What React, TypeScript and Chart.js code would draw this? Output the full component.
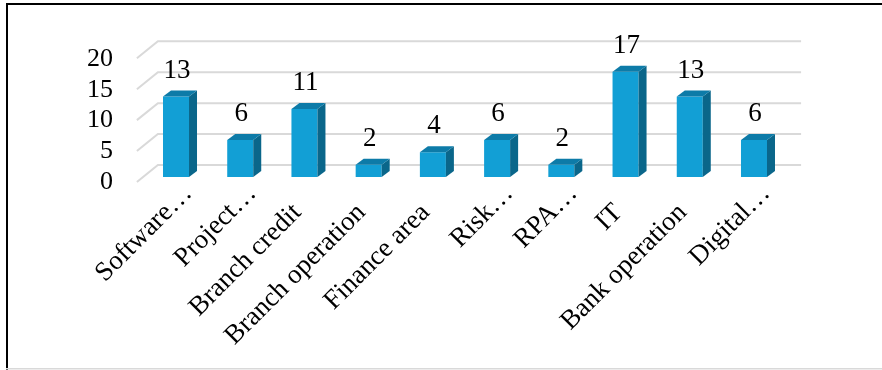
import React, { useEffect, useRef } from 'react';
import { Chart, registerables } from 'chart.js';

Chart.register(...registerables);

const categories = [
  'Software…',
  'Project…',
  'Branch credit',
  'Branch operation',
  'Finance area',
  'Risk…',
  'RPA…',
  'IT',
  'Bank operation',
  'Digital…',
];
const values = [13, 6, 11, 2, 4, 6, 2, 17, 13, 6];
const yTicks = [0, 5, 10, 15, 20];

const FONT = '"Liberation Serif", "Times New Roman", serif';
const FRONT = '#129fd5';
const TOP = '#0d7ba8';
const SIDE = '#0a668a';
const GRID = '#d9d9d9';

const framePlugin = {
  id: 'frame',
  beforeDraw(chart: any) {
    const ctx = chart.ctx;
    ctx.save();
    ctx.fillStyle = '#ffffff';
    ctx.fillRect(0, 0, chart.width, chart.height);
    ctx.fillStyle = '#000000';
    ctx.fillRect(6, 3, chart.width - 6, 2);
    ctx.fillRect(6, 3, 2, chart.height - 3);
    ctx.fillStyle = GRID;
    ctx.fillRect(6, 368, chart.width - 6, 1.5);
    ctx.restore();
  },
};

const wallPlugin = {
  id: 'wall',
  beforeDatasetsDraw(chart: any) {
    const { ctx, chartArea } = chart;
    const y = chart.scales.y;
    ctx.save();
    ctx.strokeStyle = GRID;
    ctx.lineWidth = 2;
    for (const v of yTicks) {
      const py = y.getPixelForValue(v) - 12;
      ctx.beginPath();
      ctx.moveTo(chartArea.left - 7, py + 17);
      ctx.lineTo(chartArea.left + 14, py);
      ctx.lineTo(chartArea.right + 15, py);
      ctx.stroke();
    }
    ctx.restore();
  },
};

const bars3dPlugin = {
  id: 'bars3d',
  afterDatasetsDraw(chart: any) {
    const ctx = chart.ctx;
    const meta = chart.getDatasetMeta(0);
    const dx = 8;
    const dy = 6;
    ctx.save();
    meta.data.forEach((bar: any, i: number) => {
      const { x, y, base, width } = bar.getProps(['x', 'y', 'base', 'width'], true);
      const l = x - width / 2;
      const r = x + width / 2;
      ctx.fillStyle = SIDE;
      ctx.beginPath();
      ctx.moveTo(r, y);
      ctx.lineTo(r + dx, y - dy);
      ctx.lineTo(r + dx, base - dy);
      ctx.lineTo(r, base);
      ctx.closePath();
      ctx.fill();
      ctx.fillStyle = TOP;
      ctx.beginPath();
      ctx.moveTo(l, y);
      ctx.lineTo(l + dx, y - dy);
      ctx.lineTo(r + dx, y - dy);
      ctx.lineTo(r, y);
      ctx.closePath();
      ctx.fill();
      ctx.fillStyle = '#000000';
      ctx.font = `27px ${FONT}`;
      ctx.textAlign = 'center';
      ctx.textBaseline = 'alphabetic';
      ctx.fillText(String(values[i]), x + 1, y - 19);
    });
    ctx.restore();
  },
};

export default function App() {
  const ref = useRef<HTMLCanvasElement>(null);
  useEffect(() => {
    const chart = new Chart(ref.current as HTMLCanvasElement, {
      type: 'bar',
      data: {
        labels: categories,
        datasets: [
          {
            data: values,
            backgroundColor: FRONT,
            borderWidth: 0,
            barPercentage: 0.405,
            categoryPercentage: 1,
          },
        ],
      },
      options: {
        responsive: false,
        animation: false,
        layout: { padding: { top: 53.3, right: 95.9, bottom: 0, left: 0 } },
        plugins: { legend: { display: false }, tooltip: { enabled: false } },
        scales: {
          x: {
            grid: { display: false, drawTicks: false },
            border: { display: false },
            ticks: {
              autoSkip: false,
              minRotation: 45,
              maxRotation: 45,
              padding: 1,
              labelOffset: 12,
              color: '#000000',
              font: { family: FONT, size: 27 },
              callback: (_v: any, i: number) =>
                categories[i].endsWith('…') ? categories[i] : categories[i] + '    ',
            },
            afterFit: (s: any) => {
              s.height = 193;
            },
          },
          y: {
            min: 0,
            max: 20,
            grid: { display: false, drawTicks: false },
            border: { display: false },
            ticks: {
              autoSkip: false,
              stepSize: 5,
              padding: 31,
              labelOffset: 5.5,
              color: '#000000',
              font: { family: FONT, size: 26 },
            },
            afterFit: (s: any) => {
              s.width = 143.9;
            },
          },
        },
      },
      plugins: [framePlugin, wallPlugin, bars3dPlugin],
    });
    return () => chart.destroy();
  }, []);
  return (
    <div style={{ position: 'absolute', left: 0, top: 0, width: 882, height: 370 }}>
      <canvas ref={ref} width={882} height={370} style={{ display: 'block', width: 882, height: 370 }} />
    </div>
  );
}
